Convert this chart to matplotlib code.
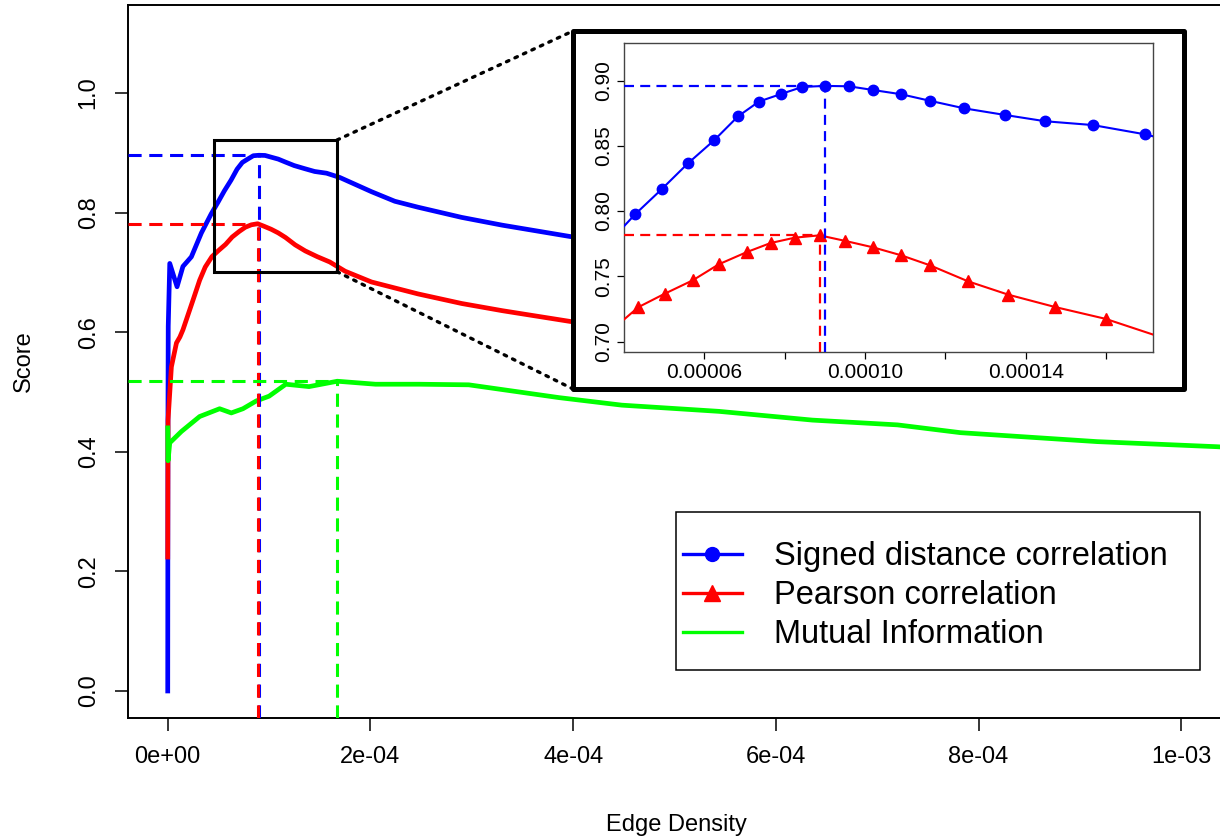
import numpy as np
import matplotlib.pyplot as plt
from matplotlib.patches import Rectangle, ConnectionPatch
from matplotlib.lines import Line2D

plt.rcParams['font.family'] = ['Liberation Sans', 'DejaVu Sans']

# score curves against edge density
blue_x = [0.0, 2.0e-7, 5.0e-7, 2.0e-6, 9.2e-6, 1.5e-5, 2.33e-5, 3.32e-5,
          4.28e-5, 4.94e-5, 5.59e-5, 6.25e-5, 6.84e-5, 7.36e-5, 7.92e-5, 8.44e-5,
          9.00e-5, 9.60e-5, 1.019e-4, 1.090e-4, 1.163e-4, 1.247e-4, 1.349e-4,
          1.449e-4, 1.567e-4, 1.697e-4,
          2.01e-4, 2.24e-4, 2.47e-4, 2.9e-4, 3.3e-4, 3.97e-4, 4.6e-4]
blue_y = [0.0, 0.45, 0.61, 0.715, 0.676, 0.710, 0.726, 0.766,
          0.7976, 0.8168, 0.8365, 0.8544, 0.8726, 0.8839, 0.8898, 0.8951,
          0.8959, 0.8956, 0.8928, 0.8895, 0.8844, 0.8787, 0.8736,
          0.8688, 0.8659, 0.8588,
          0.835, 0.819, 0.809, 0.792, 0.779, 0.760, 0.750]

red_x = [0.0, 3.0e-7, 3.6e-6, 8.6e-6, 1.2e-5, 1.5e-5, 2.5e-5, 3.15e-5, 3.7e-5,
         4.36e-5, 5.01e-5, 5.71e-5, 6.36e-5, 7.06e-5, 7.65e-5, 8.25e-5, 8.87e-5,
         9.51e-5, 1.020e-4, 1.090e-4, 1.162e-4, 1.257e-4, 1.357e-4, 1.474e-4,
         1.599e-4, 1.75e-4,
         2.01e-4, 2.47e-4, 2.9e-4, 3.3e-4, 3.97e-4, 4.6e-4]
red_y = [0.224, 0.453, 0.542, 0.582, 0.592, 0.604, 0.654, 0.687, 0.709,
         0.7264, 0.7366, 0.7469, 0.7592, 0.7686, 0.7755, 0.7796, 0.7814,
         0.7771, 0.7722, 0.7661, 0.7584, 0.7461, 0.7359, 0.7264,
         0.7174, 0.702,
         0.684, 0.664, 0.648, 0.636, 0.618, 0.605]

green_x = [0.0, 3.0e-7, 2.0e-6, 1.35e-5, 3.15e-5, 5.12e-5, 6.27e-5, 7.42e-5,
           8.73e-5, 1.0e-4, 1.165e-4, 1.394e-4, 1.673e-4, 2.05e-4, 2.48e-4,
           2.97e-4, 3.86e-4, 4.48e-4, 5.44e-4, 6.36e-4, 7.20e-4, 7.82e-4,
           9.17e-4, 1.035e-3, 1.1e-3]
green_y = [0.44, 0.385, 0.415, 0.434, 0.459, 0.472, 0.465, 0.472,
           0.485, 0.493, 0.513, 0.509, 0.518, 0.513, 0.513,
           0.512, 0.4906, 0.478, 0.4676, 0.453, 0.445, 0.432,
           0.417, 0.4085, 0.402]

series_names = ['Signed distance correlation', 'Pearson correlation', 'Mutual Information']
x_ticks = [0, 2e-4, 4e-4, 6e-4, 8e-4, 1e-3]
x_tick_labels = ['0e+00', '2e-04', '4e-04', '6e-04', '8e-04', '1e-03']
y_ticks = [0.0, 0.2, 0.4, 0.6, 0.8, 1.0]

inset_xticks = [6e-5, 8e-5, 1e-4, 1.2e-4, 1.4e-4, 1.6e-4]
inset_xlabels = ['0.00006', '', '0.00010', '', '0.00014', '']
inset_yticks = [0.70, 0.75, 0.80, 0.85, 0.90]

# zoom window marked on the main axes
zoom_box = (4.56e-5, 0.7012, 1.670e-4, 0.9214)

W, H = 1220, 840
fig = plt.figure(figsize=(W / 100, H / 100), dpi=100)

def fig_box(x0, y0, x1, y1):
    # pixel box (top-left origin) -> figure fraction rect
    return [x0 / W, 1 - y1 / H, (x1 - x0) / W, (y1 - y0) / H]

ax = fig.add_axes(fig_box(128, 5, 1225, 718))
xlim = (-3.92e-5, 1.0431e-3)
ylim = (-0.0452, 1.1472)
ax.set_xlim(xlim)
ax.set_ylim(ylim)

curves = [(blue_x, blue_y, '#0000ff', 'o'),
          (red_x, red_y, '#ff0000', '^'),
          (green_x, green_y, '#00ff00', None)]

for xs, ys, col, _ in curves:
    ax.plot(xs, ys, color=col, lw=3.4, solid_joinstyle='round', zorder=3)

# dashed guides at each curve's maximum
peaks = []
for xs, ys, col, _ in curves:
    i = int(np.argmax(ys))
    px, py = xs[i], ys[i]
    peaks.append((px, py, col))
    ax.plot([xlim[0], px], [py, py], color=col, lw=2.2, ls=(0, (4.3, 2.5)), zorder=4)
    ax.plot([px, px], [ylim[0], py], color=col, lw=2.2, ls=(0, (4.3, 2.5)), zorder=4)

ax.add_patch(Rectangle((zoom_box[0], zoom_box[1]), zoom_box[2] - zoom_box[0],
                       zoom_box[3] - zoom_box[1], fill=False, ec='black', lw=2.2, zorder=5))

ax.set_xticks(x_ticks)
ax.set_xticklabels(x_tick_labels)
ax.set_yticks(y_ticks)
ax.set_yticklabels(['%.1f' % v for v in y_ticks])
for lbl in ax.get_yticklabels():
    lbl.set_rotation(90)
    lbl.set_va('center')
ax.tick_params(direction='out', length=9.4, width=1.1, labelsize=17, pad=11)
for s in ax.spines.values():
    s.set_linewidth(1.4)
ax.set_xlabel('Edge Density', fontsize=17, labelpad=33)
ax.set_ylabel('Score', fontsize=17, labelpad=31)

# white panel behind the inset
frame = Rectangle((573 / W, 1 - 389 / H), (1184 - 573) / W, (389 - 31) / H,
                  transform=fig.transFigure, fc='white', ec='black', lw=3.6,
                  joinstyle='round', zorder=1)
fig.add_artist(frame)

for xy_a, xy_b in [((zoom_box[2], zoom_box[3]), (573 / W, 1 - 31 / H)),
                   ((zoom_box[2], zoom_box[1]), (573 / W, 1 - 389 / H))]:
    con = ConnectionPatch(xyA=xy_a, coordsA=ax.transData, xyB=xy_b,
                          coordsB=fig.transFigure, color='black', lw=2.4,
                          ls=(0, (0.8, 2.0)), capstyle='round', zorder=1.5)
    fig.add_artist(con)

ins = fig.add_axes(fig_box(624, 42.7, 1153, 352))
ins.set_zorder(2)
ixlim = (4.0e-5, 1.717e-4)
iylim = (0.692, 0.929)
ins.set_xlim(ixlim)
ins.set_ylim(iylim)
for xs, ys, col, mk in curves[:2]:
    ins.plot(xs, ys, color=col, lw=1.5, marker=mk, ms=7.5 if mk == 'o' else 8.5, zorder=3)
for px, py, col in peaks[:2]:
    ins.plot([ixlim[0], px], [py, py], color=col, lw=1.6, ls=(0, (4.5, 2.8)), zorder=4)
    ins.plot([px, px], [iylim[0], py], color=col, lw=1.6, ls=(0, (4.5, 2.8)), zorder=4)
ins.set_xticks(inset_xticks)
ins.set_xticklabels(inset_xlabels)
ins.set_yticks(inset_yticks)
ins.set_yticklabels(['%.2f' % v for v in inset_yticks])
for lbl in ins.get_yticklabels():
    lbl.set_rotation(90)
    lbl.set_va('center')
ins.tick_params(direction='out', length=5, width=0.9, labelsize=15, pad=3)
for s in ins.spines.values():
    s.set_color('#444444')
    s.set_linewidth(1.0)

handles = [Line2D([], [], color=c, lw=2.4, marker=m, ms=10 if m == 'o' else 12)
           for _, _, c, m in curves]
fig.legend(handles, series_names, loc='upper left',
           bbox_to_anchor=(683 / W, 1 - 541 / H), bbox_transform=fig.transFigure,
           frameon=False, fontsize=23.5, borderpad=0, borderaxespad=0,
           handlelength=1.8, handletextpad=1.0, labelspacing=0.25)
fig.add_artist(Rectangle((676 / W, 1 - 670 / H), (1200 - 676) / W, (670 - 512) / H,
                         transform=fig.transFigure, fill=False, ec='black', lw=1.1))

fig.savefig('out.png', dpi=100)
